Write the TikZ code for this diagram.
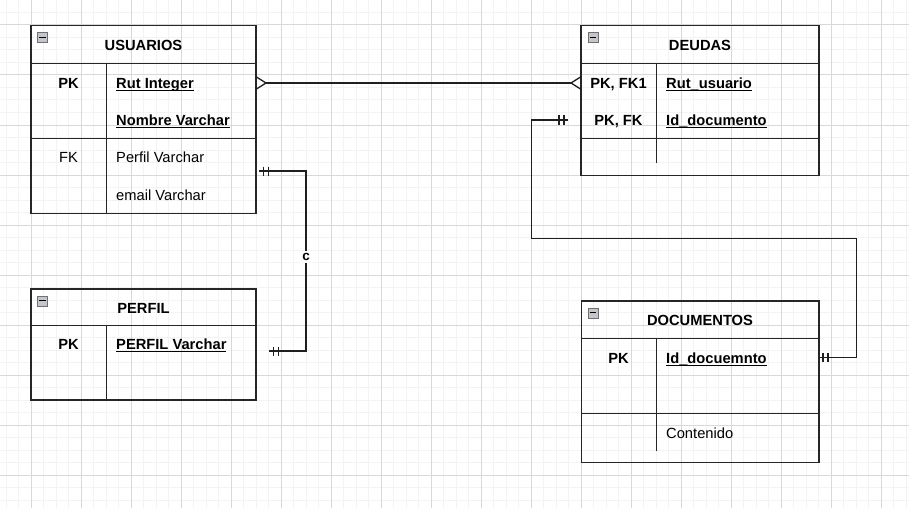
\documentclass[tikz,border=0pt]{standalone}
\usepackage{fontspec}
\setmainfont{Liberation Sans}
\usetikzlibrary{calc}
\definecolor{minorgrid}{HTML}{F3F3F3}
\definecolor{majorgrid}{HTML}{D8D8D8}
\definecolor{edgecol}{HTML}{262626}
\definecolor{iconfill}{HTML}{C4C6CC}
\definecolor{iconedge}{HTML}{707070}
\newcommand\myul[1]{\setbox0\hbox{#1}\rlap{\rule[-2.4pt]{\wd0}{1.1pt}}\box0}
\begin{document}
\begin{tikzpicture}[x=1pt,y=-1pt,
  tbl/.style={draw=edgecol,line width=1.45pt,anchor=north west,inner sep=0pt,outer sep=0pt},
  txt/.style={font=\fontsize{14.7}{17}\selectfont, inner sep=0pt, text height=10.6pt, text depth=0pt},
  btxt/.style={inner sep=0pt, text height=10.6pt, text depth=0pt, font=\fontsize{14.7}{17}\selectfont\bfseries},
  fld/.style={txt, anchor=west},
  bfld/.style={btxt, anchor=west},
  rowline/.style={draw=edgecol,line width=1.45pt},
  conn/.style={draw=black!88,line width=1.3pt},
  iconbox/.style={draw=iconedge,fill=iconfill,line width=0.8pt,minimum width=10pt,minimum height=10pt,inner sep=0pt,anchor=north west},
  lbl/.style={fill=white,inner sep=2pt,font=\fontsize{13.5}{15}\selectfont\bfseries},
  mandone/.pic={\draw[conn] (4,-4.5)--(4,4.5) (9,-4.5)--(9,4.5);},
  many/.pic={\draw[conn] (0,-6.3) -- (10,0) -- (0,6.3);}
]
\useasboundingbox (0,0) rectangle (909,508);
\fill[white] (0,0) rectangle (909,508);
% grid
\foreach \gx in {0,...,72} {\draw[minorgrid,line width=1pt] (6+12.5*\gx,0) -- (6+12.5*\gx,508);}
\foreach \gy in {0,...,40} {\draw[minorgrid,line width=1pt] (0,12.5*\gy) -- (909,12.5*\gy);}
\foreach \gx in {0,...,17} {\draw[majorgrid,line width=1pt] (31+50*\gx,0) -- (31+50*\gx,508);}
\foreach \gy in {0,...,9} {\draw[majorgrid,line width=1pt] (0,25+50*\gy) -- (909,25+50*\gy);}

% ---------- USUARIOS ----------
\node[tbl,minimum width=225pt,minimum height=187.6pt] (usu) at (31,25.7) {};
\draw[rowline] (31,63.3) -- (256,63.3);
\draw[rowline] (31,138.3) -- (256,138.3);
\draw[rowline] (106.3,63.3) -- (106.3,213.3);
\node[iconbox] (usuicon) at (37,32.3) {};
\draw[black,line width=1.2pt] (39,37.5) -- (45.5,37.5);
\node[btxt] (usutitle) at (143.5,45) {USUARIOS};
\node[btxt] (usupk) at (68.5,83) {PK};
\node[bfld] (urut) at (116,83) {\myul{Rut Integer}};
\node[bfld] (unom) at (116,120) {\myul{Nombre Varchar}};
\node[txt] (usufk) at (68.5,157) {FK};
\node[fld] (uperf) at (116,157) {Perfil Varchar};
\node[fld] (umail) at (116,195) {email Varchar};

% ---------- DEUDAS ----------
\node[tbl,minimum width=238pt,minimum height=150pt] (deu) at (581,25.7) {};
\draw[rowline] (581,63.3) -- (819,63.3);
\draw[rowline] (581,138.3) -- (819,138.3);
\draw[rowline] (656.3,63.3) -- (656.3,163.3);
\node[iconbox] (deuicon) at (587.5,32.3) {};
\draw[black,line width=1.2pt] (589.5,37.5) -- (596,37.5);
\node[btxt] (deutitle) at (700,45) {DEUDAS};
\node[btxt] (deupk1) at (618.5,83) {PK, FK1};
\node[btxt] (deupk2) at (618.5,120) {PK, FK};
\node[bfld] (drut) at (666,83) {\myul{Rut\_usuario}};
\node[bfld] (did) at (666,120) {\myul{Id\_documento}};

% ---------- PERFIL ----------
\node[tbl,minimum width=225pt,minimum height=111pt] (per) at (31,289) {};
\draw[rowline] (31,325.7) -- (256,325.7);
\draw[rowline] (106.3,325.7) -- (106.3,400);
\draw[draw=edgecol,line width=2.2pt] (31,400) -- (256,400);
\node[iconbox] (pericon) at (37,295.5) {};
\draw[black,line width=1.2pt] (39,300.7) -- (45.5,300.7);
\node[btxt] (pertitle) at (143.5,308) {PERFIL};
\node[btxt] (perpk) at (68.5,344.5) {PK};
\node[bfld] (pvar) at (116,344.5) {\myul{PERFIL Varchar}};

% ---------- DOCUMENTOS ----------
\node[tbl,minimum width=237.5pt,minimum height=161.7pt] (doc) at (581.5,301) {};
\draw[rowline] (581.5,338.3) -- (819,338.3);
\draw[rowline] (581.5,413.3) -- (819,413.3);
\draw[rowline] (656.3,338.3) -- (656.3,450.7);
\node[iconbox] (docicon) at (587.5,307.5) {};
\draw[black,line width=1.2pt] (589.5,312.7) -- (596,312.7);
\node[btxt] (doctitle) at (700,320) {DOCUMENTOS};
\node[btxt] (docpk) at (618.5,358) {PK};
\node[bfld] (docid) at (666,358) {\myul{Id\_docuemnto}};
\node[fld] (docc) at (666,433) {Contenido};

% ---------- connectors ----------
% USUARIOS -- DEUDAS (many to many)
\draw[conn] ($(usu.east |- urut)+(10,0)$) -- ($(deu.west |- drut)+(-10,0)$);
\pic at (usu.east |- urut) {many};
\pic[rotate=180] at (deu.west |- drut) {many};

% DEUDAS -- DOCUMENTOS
\coordinate (dEnd) at ($(deu.west |- did)+(-13,0)$);
\coordinate (k1) at (531.5,238.5);
\coordinate (k2) at (856.5,357.5);
\draw[conn] (dEnd) -| (k1) -| (k2) -- (doc.east |- k2);
\pic[rotate=180] at (dEnd) {mandone};
\pic at (doc.east |- k2) {mandone};

% USUARIOS -- PERFIL
\coordinate (pA) at (259.3,171);
\coordinate (k3) at (306,351);
\coordinate (pB) at (269.3,351);
\draw[conn] (pA) -| (k3) -- (pB);
\node[lbl] (clab) at (306,257) {c};
\pic at (pA) {mandone};
\pic at (pB) {mandone};
\end{tikzpicture}
\end{document}
